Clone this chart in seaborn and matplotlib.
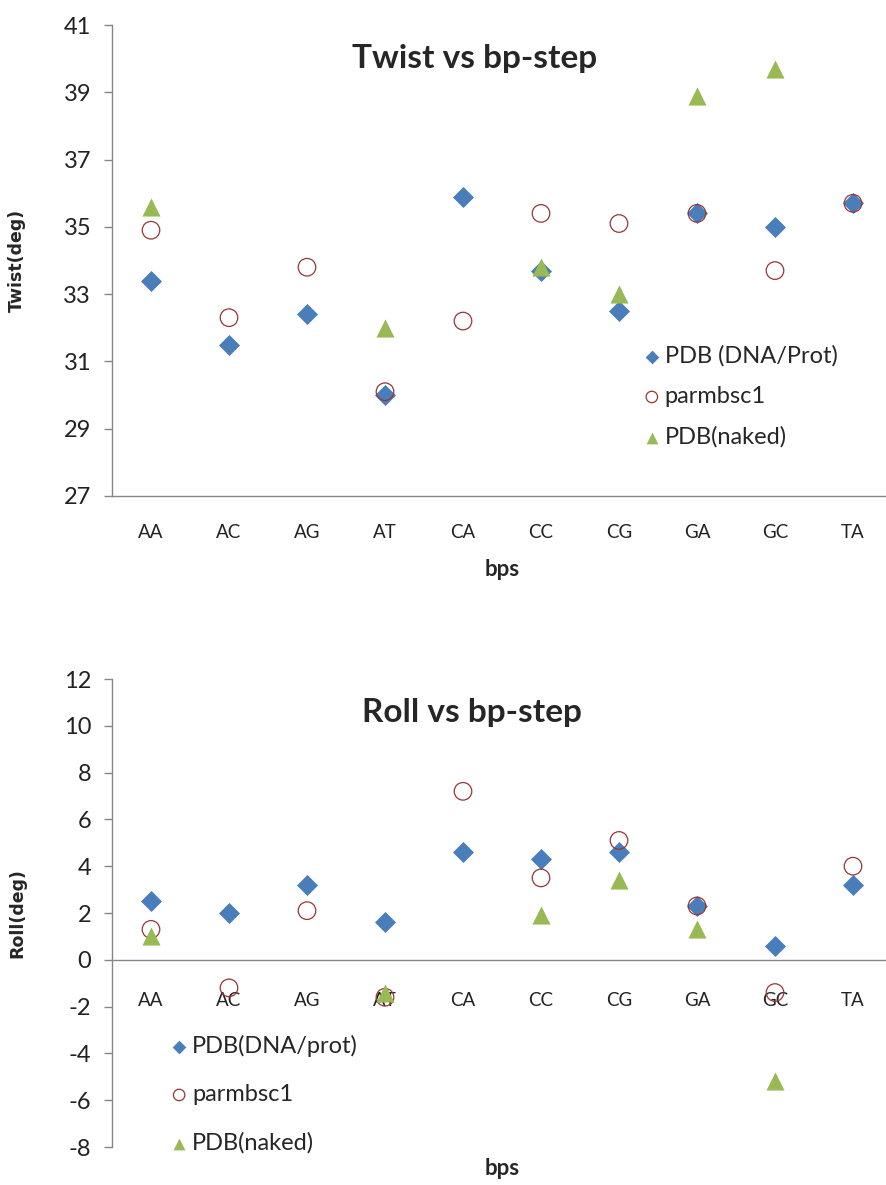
import numpy as np
import pandas as pd
import matplotlib
matplotlib.use("Agg")
import matplotlib.pyplot as plt
import seaborn as sns

# base-pair steps
steps = ["AA", "AC", "AG", "AT", "CA", "CC", "CG", "GA", "GC", "TA"]

# Twist (deg)
twist_pdb_prot = [33.4, 31.5, 32.4, 30.0, 35.9, 33.7, 32.5, 35.4, 35.0, 35.7]
twist_parmbsc1 = [34.9, 32.3, 33.8, 30.1, 32.2, 35.4, 35.1, 35.4, 33.7, 35.7]
twist_pdb_naked = [35.6, np.nan, np.nan, 32.0, np.nan, 33.8, 33.0, 38.9, 39.7, np.nan]

# Roll (deg)
roll_pdb_prot = [2.5, 2.0, 3.2, 1.6, 4.6, 4.3, 4.6, 2.3, 0.6, 3.2]
roll_parmbsc1 = [1.3, -1.2, 2.1, -1.6, 7.2, 3.5, 5.1, 2.3, -1.4, 4.0]
roll_pdb_naked = [1.0, np.nan, np.nan, -1.4, np.nan, 1.9, 3.4, 1.3, -5.2, np.nan]

BLUE = "#4A7EBB"
RED = "#953735"
GREEN = "#98B954"
GRAY = "#868686"

sns.set_style("white")
plt.rcParams["font.family"] = ["Lato", "DejaVu Sans"]


def draw(ax, vals, labels, ylim, yticks, title, title_x, ylabel, leg_xy, leg_space, xlab_y, zero_axis):
    df = pd.DataFrame({"pos": np.arange(len(steps)), "a": vals[0], "b": vals[1], "c": vals[2]})
    sns.scatterplot(data=df, x="pos", y="a", ax=ax, marker="D", s=115, color=BLUE,
                    linewidth=0, label=labels[0], zorder=3)
    sns.scatterplot(data=df, x="pos", y="b", ax=ax, marker="o", s=160, facecolor="none",
                    edgecolor=RED, linewidth=0.9, label=labels[1], zorder=4)
    sns.scatterplot(data=df, x="pos", y="c", ax=ax, marker="^", s=170, color=GREEN,
                    linewidth=0, label=labels[2], zorder=5)

    for side in ["top", "right"]:
        ax.spines[side].set_visible(False)
    for side in ["left", "bottom"]:
        ax.spines[side].set_color(GRAY)
        ax.spines[side].set_linewidth(1)
    if zero_axis:
        # move the category axis to y = 0 (resets ticks, so do it first)
        ax.spines["bottom"].set_position(("data", 0))

    ax.set_xlim(-0.5, len(steps) - 0.5)
    ax.set_ylim(*ylim)
    ax.set_yticks(yticks)
    ax.set_yticklabels([str(t) for t in yticks], fontsize=17, color="#222222")
    ax.set_xticks(np.arange(len(steps)))
    ax.set_xticklabels(steps, fontsize=13.5, color="#222222")
    ax.set_xticks(np.arange(len(steps) - 1) + 0.5, minor=True)
    ax.tick_params(axis="x", which="major", length=0, pad=20 if not zero_axis else 23)
    ax.tick_params(axis="x", which="minor", length=6, width=1, color=GRAY, direction="out")
    ax.tick_params(axis="y", length=6, width=1, color=GRAY, direction="out", pad=9, left=True)

    ax.set_title(title, fontsize=24, fontweight="bold", x=title_x, y=0.89)
    ax.set_ylabel(ylabel, fontsize=12.5, fontweight="bold", family=["DejaVu Sans"])
    ax.yaxis.set_label_coords(-0.11, 0.5)
    ax.set_xlabel("bps", fontsize=16, fontweight="bold")
    ax.xaxis.set_label_coords(0.5, xlab_y)

    ax.legend(loc="upper left", bbox_to_anchor=leg_xy, frameon=False, fontsize=17,
              handlelength=0.6, handletextpad=0.25, borderaxespad=0, borderpad=0,
              labelspacing=leg_space, markerscale=0.65)


fig = plt.figure(figsize=(8.87, 11.85), dpi=100)
ax1 = fig.add_axes([112 / 887, 1 - 496 / 1185, 780 / 887, 471 / 1185])
ax2 = fig.add_axes([112 / 887, 1 - 1147 / 1185, 780 / 887, 468 / 1185])

draw(ax1, [twist_pdb_prot, twist_parmbsc1, twist_pdb_naked],
     ["PDB (DNA/Prot)", "parmbsc1", "PDB(naked)"],
     (27, 41), list(range(27, 42, 2)), "Twist vs bp-step", 0.465, "Twist(deg)",
     (0.683, 0.32), 0.82, -0.134, False)

draw(ax2, [roll_pdb_prot, roll_parmbsc1, roll_pdb_naked],
     ["PDB(DNA/prot)", "parmbsc1", "PDB(naked)"],
     (-8, 12), list(range(-8, 13, 2)), "Roll vs bp-step", 0.462, "Roll(deg)",
     (0.077, 0.24), 1.16, -0.0235, True)

fig.savefig("out.png", dpi=100)
